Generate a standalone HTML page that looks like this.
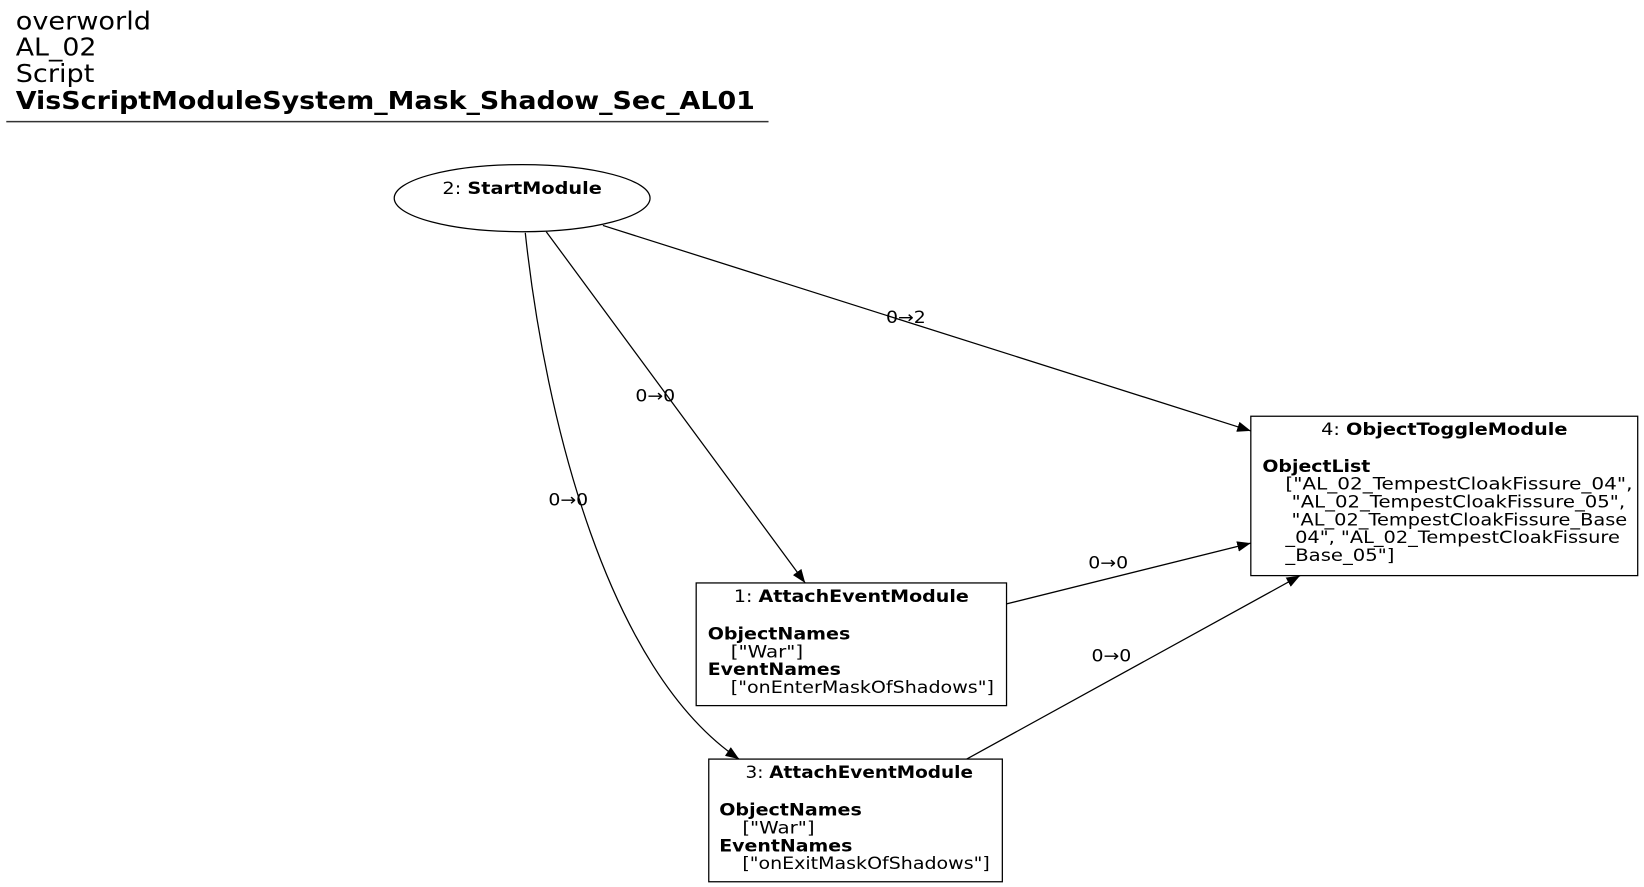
<!DOCTYPE html>
<html><head><meta charset="utf-8"><style>
html,body{margin:0;padding:0;background:#fff;}
svg{display:block;font-family:"DejaVu Sans","Liberation Sans",sans-serif;}
</style></head><body>
<svg width="1644" height="887" viewBox="0 0 1568 846" preserveAspectRatio="none">
<defs><marker id="a" markerWidth="13" markerHeight="10" refX="13" refY="5" orient="auto" markerUnits="userSpaceOnUse"><path d="M0,0 L13,5 L0,10 z" fill="#000"/></marker></defs>
<g font-size="24" fill="#000">
<text x="15" y="28" textLength="129" lengthAdjust="spacingAndGlyphs">overworld</text>
<text x="15" y="53" textLength="77" lengthAdjust="spacingAndGlyphs">AL_02</text>
<text x="15" y="78" textLength="75" lengthAdjust="spacingAndGlyphs">Script</text>
<text x="15" y="104" font-weight="bold" textLength="705" lengthAdjust="spacingAndGlyphs">VisScriptModuleSystem_Mask_Shadow_Sec_AL01</text>
</g>
<line x1="6" y1="116" x2="733" y2="116" stroke="#333" stroke-width="1.5"/>
<g fill="none" stroke="#000" stroke-width="1.2">
<ellipse cx="498" cy="189" rx="122" ry="32" fill="#fff"/>
<rect x="1193" y="397" width="369" height="152" fill="#fff"/>
<rect x="664" y="556" width="296" height="117" fill="#fff"/>
<rect x="676" y="724" width="280" height="117" fill="#fff"/>
<path d="M575,215 L1193,411" marker-end="url(#a)"/>
<path d="M521,221 L768,556" marker-end="url(#a)"/>
<path d="M501,222 C520,400 580,640 705,724" marker-end="url(#a)"/>
<path d="M960,576 L1193,518" marker-end="url(#a)"/>
<path d="M922,724 L1240,549" marker-end="url(#a)"/>
</g>
<g font-size="16" fill="#000">
<text x="845" y="308" textLength="38" lengthAdjust="spacingAndGlyphs">0→2</text>
<text x="606" y="383" textLength="38" lengthAdjust="spacingAndGlyphs">0→0</text>
<text x="523" y="482" textLength="38" lengthAdjust="spacingAndGlyphs">0→0</text>
<text x="1038" y="542" textLength="38" lengthAdjust="spacingAndGlyphs">0→0</text>
<text x="1041" y="631" textLength="38" lengthAdjust="spacingAndGlyphs">0→0</text>
<text x="422" y="185" textLength="152" lengthAdjust="spacingAndGlyphs">2: <tspan font-weight="bold">StartModule</tspan></text>
<text x="1260" y="415" textLength="235" lengthAdjust="spacingAndGlyphs">4: <tspan font-weight="bold">ObjectToggleModule</tspan></text>
<text x="1204" y="450" font-weight="bold" textLength="103" lengthAdjust="spacingAndGlyphs">ObjectList</text>
<text x="1226" y="467" textLength="331" lengthAdjust="spacingAndGlyphs">["AL_02_TempestCloakFissure_04",</text>
<text x="1226" y="484" textLength="324" lengthAdjust="spacingAndGlyphs" xml:space="preserve"> "AL_02_TempestCloakFissure_05",</text>
<text x="1226" y="501" textLength="326" lengthAdjust="spacingAndGlyphs" xml:space="preserve"> "AL_02_TempestCloakFissure_Base</text>
<text x="1226" y="518" textLength="319" lengthAdjust="spacingAndGlyphs">_04", "AL_02_TempestCloakFissure</text>
<text x="1226" y="535" textLength="104" lengthAdjust="spacingAndGlyphs">_Base_05"]</text>
<text x="700" y="574" textLength="224" lengthAdjust="spacingAndGlyphs">1: <tspan font-weight="bold">AttachEventModule</tspan></text>
<text x="675" y="610" font-weight="bold" textLength="136" lengthAdjust="spacingAndGlyphs">ObjectNames</text>
<text x="697" y="627" textLength="69" lengthAdjust="spacingAndGlyphs">["War"]</text>
<text x="675" y="644" font-weight="bold" textLength="127" lengthAdjust="spacingAndGlyphs">EventNames</text>
<text x="697" y="661" textLength="251" lengthAdjust="spacingAndGlyphs">["onEnterMaskOfShadows"]</text>
<text x="711" y="742" textLength="217" lengthAdjust="spacingAndGlyphs">3: <tspan font-weight="bold">AttachEventModule</tspan></text>
<text x="686" y="778" font-weight="bold" textLength="136" lengthAdjust="spacingAndGlyphs">ObjectNames</text>
<text x="708" y="795" textLength="69" lengthAdjust="spacingAndGlyphs">["War"]</text>
<text x="686" y="812" font-weight="bold" textLength="127" lengthAdjust="spacingAndGlyphs">EventNames</text>
<text x="708" y="829" textLength="236" lengthAdjust="spacingAndGlyphs">["onExitMaskOfShadows"]</text>
</g>
</svg>
</body></html>
